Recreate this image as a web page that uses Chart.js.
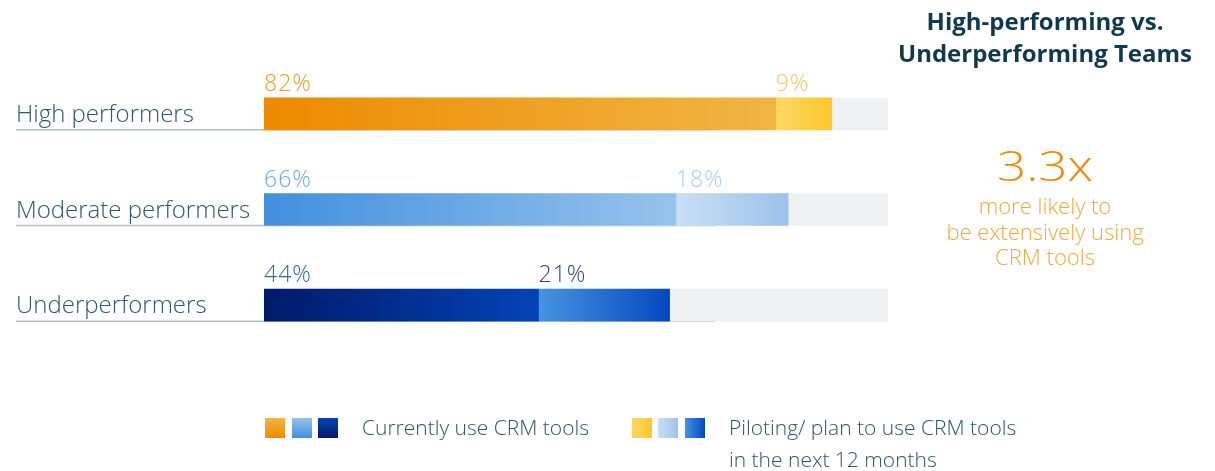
<!DOCTYPE html>
<html>
<head>
<meta charset="utf-8">
<script src="https://cdn.jsdelivr.net/npm/chart.js@4"></script>
<style>
  html, body { margin: 0; padding: 0; background: #ffffff; }
  #wrap { position: relative; width: 1215px; height: 471px; }
</style>
</head>
<body>
<div id="wrap"><canvas id="crmChart" width="1215" height="471"></canvas></div>
<script>
    "use strict";

    // data
    const categories = ['High performers', 'Moderate performers', 'Underperformers'];
    const currentUse = [82, 66, 44];
    const pilotUse = [9, 18, 21];
    const trackMax = [100, 100, 100];

    const legendLabels = ['Currently use CRM tools', ['Piloting/ plan to use CRM tools', 'in the next 12 months']];
    const titleLines = ['High-performing vs.', 'Underperforming Teams'];
    const calloutValue = '3.3x';
    const calloutLines = ['more likely to', 'be extensively using', 'CRM tools'];

    // colours: [left, right] of each gradient
    const currentColors = [['#ED8A00', '#F0B645'], ['#428FDD', '#97C3EC'], ['#001A69', '#0443B5']];
    const pilotColors = [['#FAD866', '#FEC72C'], ['#C9DFF4', '#9CC3EC'], ['#4794E1', '#0448BF']];
    const currentTextColors = ['#F29A20', '#69A9E6', '#2F62C9'];
    const pilotTextColors = ['#F5C46A', '#A9CDF0', '#2B3E8C'];
    const trackColor = '#EFF2F4';

    const FONT = '"Open Sans", Lato, sans-serif';

    function segmentGradient(palette, startOf, endOf) {
        return function (ctx) {
            const chart = ctx.chart;
            const i = ctx.dataIndex;
            if (!chart.chartArea || !chart.scales.x) {
                return palette[i][0];
            }
            const x = chart.scales.x;
            const x0 = x.getPixelForValue(startOf(i));
            const x1 = x.getPixelForValue(endOf(i));
            const g = chart.ctx.createLinearGradient(x0, 0, x1, 0);
            g.addColorStop(0, palette[i][0]);
            g.addColorStop(1, palette[i][1]);
            return g;
        };
    }

    // labels, underlines, value labels, right panel, legend
    const decorPlugin = {
        id: 'decor',
        beforeDatasetsDraw: function (chart) {
            const ctx = chart.ctx;
            const y = chart.scales.y;
            ctx.save();
            ctx.strokeStyle = '#AFC0CC';
            ctx.lineWidth = 1.5;
            categories.forEach(function (cat, i) {
                const yc = y.getPixelForValue(i);
                ctx.beginPath();
                ctx.moveTo(16, yc + 16);
                ctx.lineTo(716, yc + 16);
                ctx.stroke();
            });
            ctx.restore();
        },
        afterDatasetsDraw: function (chart) {
            const ctx = chart.ctx;
            const x = chart.scales.x;
            const y = chart.scales.y;
            ctx.save();
            ctx.textBaseline = 'alphabetic';

            categories.forEach(function (cat, i) {
                const yc = y.getPixelForValue(i);
                ctx.textAlign = 'left';
                ctx.font = '300 24px ' + FONT;
                ctx.fillStyle = '#2F5868';
                ctx.fillText(cat, 16, yc + 8);

                ctx.font = '300 23px ' + FONT;
                ctx.letterSpacing = '1px';
                ctx.fillStyle = currentTextColors[i];
                ctx.fillText(currentUse[i] + '%', x.getPixelForValue(0), yc - 23);
                ctx.fillStyle = pilotTextColors[i];
                ctx.fillText(pilotUse[i] + '%', x.getPixelForValue(currentUse[i]), yc - 23);
                ctx.letterSpacing = '0px';
            });

            // right panel
            const cx = 1045;
            ctx.textAlign = 'center';
            ctx.fillStyle = '#0F3A4B';
            ctx.font = 'bold 24px ' + FONT;
            ctx.fillText(titleLines[0], cx, 30);
            ctx.fillText(titleLines[1], cx, 62);

            // big multiplier, a bit wider than the font draws it
            ctx.save();
            ctx.translate(cx, 181);
            ctx.scale(1.22, 1);
            ctx.fillStyle = '#EF8B0A';
            ctx.font = '300 42px ' + FONT;
            ctx.fillText(calloutValue, 0, 0);
            ctx.restore();

            ctx.fillStyle = '#F3A840';
            ctx.font = '300 22px ' + FONT;
            calloutLines.forEach(function (line, k) {
                ctx.fillText(line, cx, 214 + k * 25.5);
            });

            // legend
            function square(x0, y0, c0, c1, vertical) {
                const g = vertical ? ctx.createLinearGradient(0, y0, 0, y0 + 20)
                                   : ctx.createLinearGradient(x0, 0, x0 + 20, 0);
                g.addColorStop(0, c0);
                g.addColorStop(1, c1);
                ctx.fillStyle = g;
                ctx.fillRect(x0, y0, 20, 20);
            }
            const sqX1 = [265, 292, 318];
            const sqX2 = [632, 658, 685];
            for (let k = 0; k < 3; k++) {
                square(sqX1[k], 418, currentColors[k][1], currentColors[k][0], true);
                square(sqX2[k], 418, pilotColors[k][0], pilotColors[k][1], false);
            }
            ctx.textAlign = 'left';
            ctx.fillStyle = '#2F5565';
            ctx.font = '300 21px ' + FONT;
            ctx.fillText(legendLabels[0], 362, 435);
            ctx.fillText(legendLabels[1][0], 729, 435);
            ctx.fillText(legendLabels[1][1], 729, 467);
            ctx.restore();
        }
    };

    new Chart(document.getElementById('crmChart').getContext('2d'), {
        type: 'bar',
        data: {
            labels: categories,
            datasets: [
                {
                    label: 'Currently use CRM tools',
                    data: currentUse.map(function (v) { return [0, v]; }),
                    backgroundColor: segmentGradient(currentColors,
                        function () { return 0; },
                        function (i) { return currentUse[i]; })
                },
                {
                    label: 'Piloting/plan to use CRM tools',
                    data: pilotUse.map(function (v, i) { return [currentUse[i], currentUse[i] + v]; }),
                    backgroundColor: segmentGradient(pilotColors,
                        function (i) { return currentUse[i]; },
                        function (i) { return currentUse[i] + pilotUse[i]; })
                },
                {
                    label: 'track',
                    data: trackMax.map(function (v) { return [0, v]; }),
                    backgroundColor: trackColor
                }
            ]
        },
        options: {
            indexAxis: 'y',
            responsive: false,
            animation: false,
            grouped: false,
            barThickness: 32,
            borderSkipped: false,
            layout: { padding: { left: 264, right: 327, top: 66, bottom: 118 } },
            scales: {
                x: { display: false, min: 0, max: 100 },
                y: { display: false }
            },
            plugins: {
                legend: { display: false },
                tooltip: { enabled: false }
            }
        },
        plugins: [decorPlugin]
    });
</script>
</body>
</html>
